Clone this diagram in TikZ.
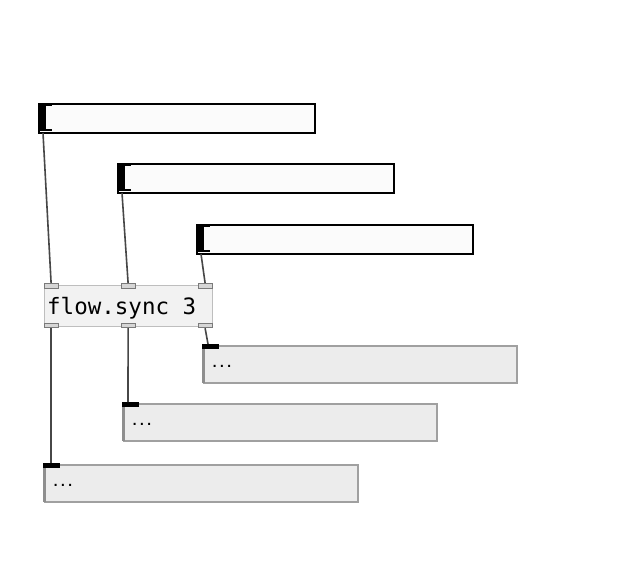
\documentclass[tikz,border=0pt]{standalone}
\usepackage{fontspec}
\setmonofont{DejaVu Sans Mono}
\definecolor{inboxfill}{HTML}{FBFBFB}
\definecolor{objfill}{HTML}{F2F2F2}
\definecolor{objdraw}{HTML}{BEBEBE}
\definecolor{iofill}{HTML}{D6D6D6}
\definecolor{iodraw}{HTML}{7A7A7A}
\definecolor{outfill}{HTML}{ECECEC}
\definecolor{outdraw}{HTML}{A0A0A0}
\definecolor{wire}{HTML}{474747}
\begin{document}
\begin{tikzpicture}[x=1pt,y=-1pt,
  inbox/.style={draw=black,line width=2,fill=inboxfill,minimum width=276,minimum height=29,inner sep=0,anchor=north west},
  outbox/.style={draw=outdraw,line width=2,fill=outfill,minimum width=313,minimum height=37,inner sep=0,anchor=north west},
  objbox/.style={draw=objdraw,line width=1.2,fill=objfill,minimum width=168,minimum height=41,inner sep=0,anchor=north west},
  iolet/.style={draw=iodraw,line width=1.2,fill=iofill,minimum width=14,minimum height=4.5,inner sep=0,anchor=north west},
  blackbar/.style={fill=black,draw=none,inner sep=0,anchor=north west},
  wireline/.style={draw=wire,line width=1.6},
  dots/.style={font=\ttfamily\bfseries\fontsize{12}{14}\selectfont,inner sep=0,anchor=base west}
]
\useasboundingbox (0,0) rectangle (642,567);
\fill[white] (0,0) rectangle (642,567);

% input boxes
\foreach \n/\x/\y in {A/38/103,B/117/163,C/196/224}{
  \node[inbox] (\n) at (\x,\y) {};
  \node[blackbar,minimum width=6,minimum height=27] (\n-bar) at (\x+2,\y+1) {};
  \fill[black] (\x+2,\y+1) rectangle (\x+14,\y+3);
  \fill[black] (\x+2,\y+26) rectangle (\x+14,\y+28);
  \coordinate (\n-in) at (\x+5,\y+30);
}

% flow.sync object
\node[objbox] (sync) at (43.5,284.5) {};
\node[font=\ttfamily\fontsize{22.5}{26}\selectfont,inner sep=0,anchor=base west] (synclabel) at (47,314.5) {flow.sync 3};
\node[iolet] (i1) at (43.5,283) {};
\node[iolet] (i2) at (120.5,283) {};
\node[iolet] (i3) at (197.5,283) {};
\node[iolet] (o1) at (43.5,322.5) {};
\node[iolet] (o2) at (120.5,322.5) {};
\node[iolet] (o3) at (197.5,322.5) {};

% output boxes
\foreach \n/\x/\y in {D/203/345,E/123/403,F/44/464}{
  \node[outbox] (\n) at (\x,\y) {};
  \fill[iodraw!85] (\x-1,\y-1) rectangle (\x+2,\y+38);
  \node[blackbar,minimum width=17,minimum height=4.5] (\n-bar) at (\x-1,\y-1) {};
  \node[dots] (\n-txt) at (\x+8,\y+22) {...};
}

% wires
\draw[wireline] (A-in) -- (i1.north);
\draw[wireline] (B-in) -- (i2.north);
\draw[wireline] (C-in) -- (i3.north);
\draw[wireline] (o1.south) -- (F-bar.north west -| o1.south);
\draw[wireline] (o2.south) -- ([xshift=6]E-bar.north west);
\draw[wireline] (o3.south) -- ([xshift=6]D-bar.north west);
\end{tikzpicture}
\end{document}
